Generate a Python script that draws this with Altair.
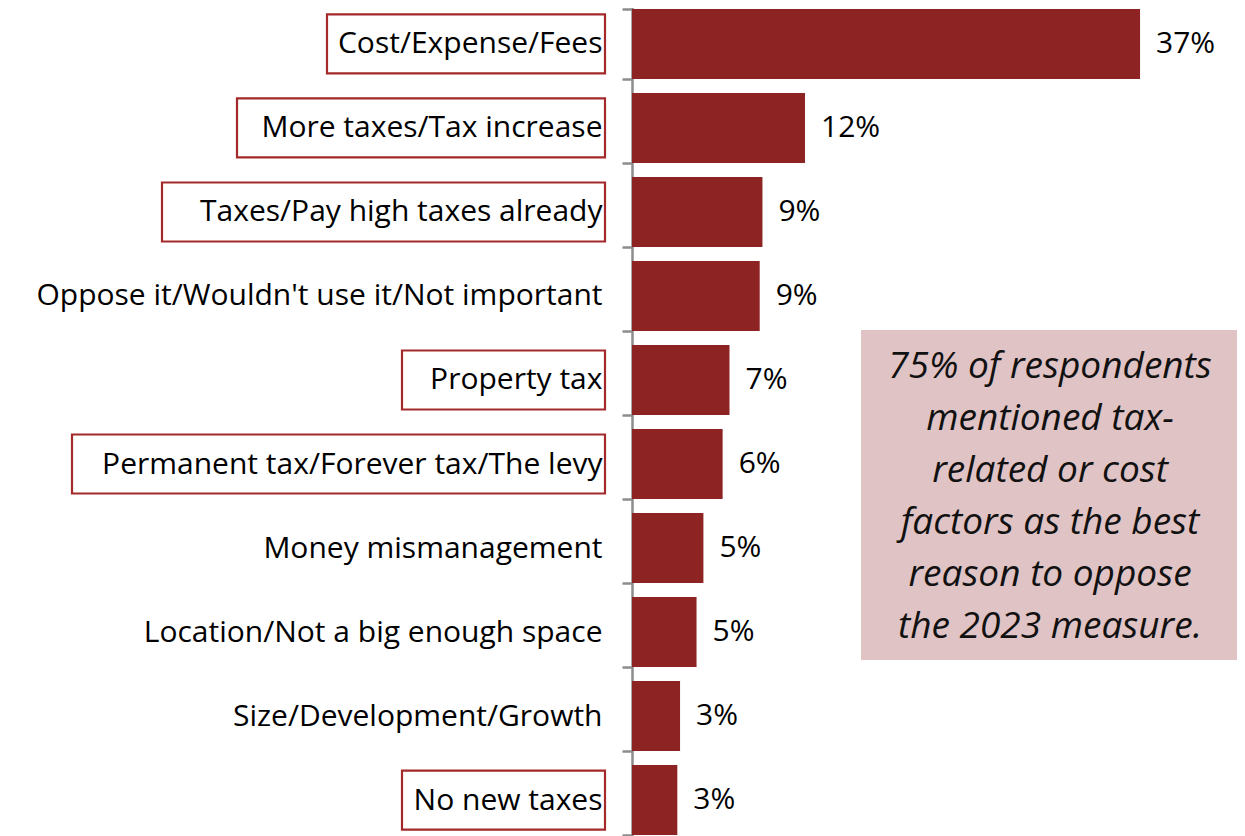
import altair as alt
import pandas as pd

categories = [
    "Cost/Expense/Fees",
    "More taxes/Tax increase",
    "Taxes/Pay high taxes already",
    "Oppose it/Wouldn't use it/Not important",
    "Property tax",
    "Permanent tax/Forever tax/The levy",
    "Money mismanagement",
    "Location/Not a big enough space",
    "Size/Development/Growth",
    "No new taxes",
]
values = [37.0, 12.6, 9.5, 9.3, 7.1, 6.6, 5.2, 4.7, 3.5, 3.3]
value_labels = ["37%", "12%", "9%", "9%", "7%", "6%", "5%", "5%", "3%", "3%"]
boxed = [True, True, True, False, True, True, False, False, False, True]

note_lines = [
    "75% of respondents",
    "mentioned tax-",
    "related or cost",
    "factors as the best",
    "reason to oppose",
    "the 2023 measure.",
]

FONT = "Open Sans"
BAR = "#8E2323"
GRAY = "#8C8C8C"
FS = 30

df = pd.DataFrame({"category": categories, "value": values,
                   "label": value_labels, "boxed": boxed})

yenc = alt.Y(
    "category:N", sort=categories,
    scale=alt.Scale(paddingInner=0.167, paddingOuter=0.083),
    axis=alt.Axis(title=None, labelFontSize=FS, labelFont=FONT, labelColor="black",
                  labelPadding=20, labelLimit=0, tickSize=10, tickBand="extent",
                  tickColor=GRAY, tickWidth=2.5, domainColor=GRAY, domainWidth=2.5),
)
xscale = alt.Scale(domain=[0, 44.06], nice=False, zero=True)

bars = alt.Chart(df).mark_bar(color=BAR).encode(
    x=alt.X("value:Q", scale=xscale, axis=None),
    y=yenc,
)
texts = alt.Chart(df).mark_text(align="left", baseline="middle", dx=16,
                                fontSize=FS, font=FONT, color="black").encode(
    x=alt.X("value:Q", scale=xscale, axis=None),
    y=alt.Y("category:N", sort=categories),
    text="label:N",
)

boxes = alt.Chart(df).transform_filter("datum.boxed").transform_calculate(
    bx2="-27",
    bx="-50 - length(datum.category) * 15",
).mark_bar(filled=False, stroke="#A3292A", strokeWidth=2.2, height=59).encode(
    x=alt.X("bx:Q", scale=None, axis=None),
    x2="bx2:Q",
    y=alt.Y("category:N", sort=categories),
)

note_df = pd.DataFrame({"t": [0]})
note_bg = alt.Chart(note_df).mark_rect(color="#E0C3C4").encode(
    x=alt.value(229), x2=alt.value(606), y=alt.value(328), y2=alt.value(658)
)
note_text = alt.Chart(note_df).mark_text(
    text=note_lines, fontSize=37, font=FONT, fontStyle="italic", color="#111111",
    align="center", baseline="middle", lineHeight=52,
).encode(x=alt.value(418), y=alt.value(365))

chart = alt.layer(bars, texts, boxes, note_bg, note_text).resolve_scale(
    x="independent"
).properties(
    width=605, height=840,
    autosize=alt.AutoSizeParams(type="none"),
    padding={"left": 624, "top": -6, "right": 0, "bottom": -6},
).configure_view(stroke=None)

chart.save("out.html", embed_options={"renderer": "svg", "actions": False})
